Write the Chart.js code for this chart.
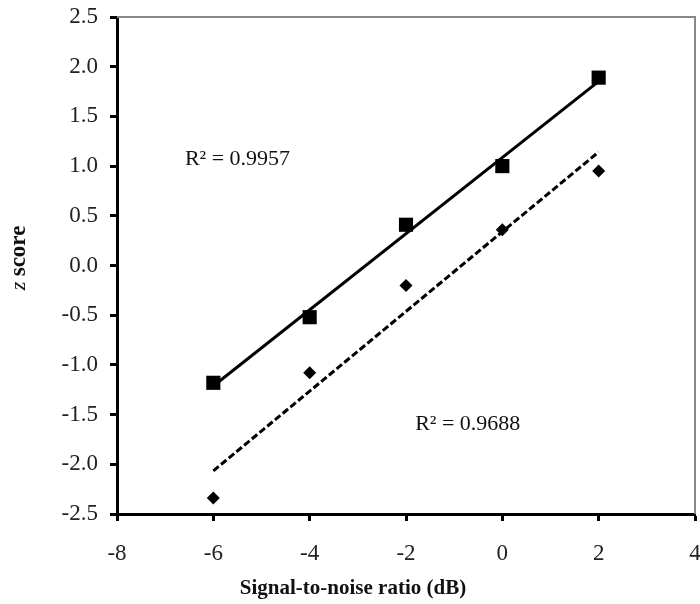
<!DOCTYPE html>
<html>
<head>
<meta charset="utf-8">
<script src="https://cdn.jsdelivr.net/npm/chart.js@4/dist/chart.umd.min.js"></script>
<style>
  html, body { margin: 0; padding: 0; background: #fff; }
  #wrap { width: 700px; height: 604px; }
</style>
</head>
<body>
<div id="wrap"><canvas id="chart" width="700" height="604"></canvas></div>
<script>
const snr = [-6, -4, -2, 0, 2];
const squareScores = [-1.18, -0.52, 0.41, 1.0, 1.89];
const diamondScores = [-2.34, -1.08, -0.2, 0.36, 0.95];
const xTicks = [-8, -6, -4, -2, 0, 2, 4];
const yTicks = [-2.5, -2.0, -1.5, -1.0, -0.5, 0.0, 0.5, 1.0, 1.5, 2.0, 2.5];
const r2Labels = ["R\u00B2 = 0.9957", "R\u00B2 = 0.9688"];
const xTitle = "Signal-to-noise ratio (dB)";

const serif = "'Liberation Serif', 'Times New Roman', serif";

function toPoints(xs, ys) {
  return xs.map((x, i) => ({ x: x, y: ys[i] }));
}

// least squares fit, drawn across the data range
function fitLine(xs, ys) {
  const n = xs.length;
  const mx = xs.reduce((a, b) => a + b, 0) / n;
  const my = ys.reduce((a, b) => a + b, 0) / n;
  let sxy = 0, sxx = 0;
  xs.forEach((x, i) => {
    sxy += (x - mx) * (ys[i] - my);
    sxx += (x - mx) * (x - mx);
  });
  const slope = sxy / sxx;
  const x0 = Math.min(...xs), x1 = Math.max(...xs);
  return [
    { x: x0, y: my + slope * (x0 - mx) },
    { x: x1, y: my + slope * (x1 - mx) }
  ];
}

const extras = {
  id: "extras",
  afterDraw(chart) {
    const ctx = chart.ctx;
    const a = chart.chartArea;
    const xs = chart.scales.x;
    const ys = chart.scales.y;
    ctx.save();

    // gray top/right frame
    ctx.strokeStyle = "#888";
    ctx.lineWidth = 2;
    ctx.beginPath();
    ctx.moveTo(a.left, a.top);
    ctx.lineTo(a.right, a.top);
    ctx.lineTo(a.right, a.bottom);
    ctx.stroke();

    // R² labels
    ctx.fillStyle = "#111";
    ctx.font = "22px " + serif;
    ctx.textBaseline = "middle";
    ctx.textAlign = "left";
    ctx.fillText(r2Labels[0], xs.getPixelForValue(-6.59), ys.getPixelForValue(1.07));
    ctx.fillText(r2Labels[1], xs.getPixelForValue(-1.81), ys.getPixelForValue(-1.6));

    // x axis title, centred on the page
    ctx.font = "bold 21px " + serif;
    ctx.textAlign = "center";
    ctx.fillText(xTitle, 353, 589);

    // y axis title: italic z + bold "score"
    ctx.translate(19, 258);
    ctx.rotate(-Math.PI / 2);
    ctx.textBaseline = "middle";
    ctx.font = "italic 22px " + serif;
    const zw = ctx.measureText("z ").width;
    ctx.font = "bold 23px " + serif;
    const sw = ctx.measureText("score").width;
    const start = -(zw + sw) / 2;
    ctx.textAlign = "left";
    ctx.font = "italic 22px " + serif;
    ctx.fillText("z ", start, 0);
    ctx.font = "bold 23px " + serif;
    ctx.fillText("score", start + zw, 0);
    ctx.restore();
  }
};

const chart = new Chart(document.getElementById("chart"), {
  type: "scatter",
  data: {
    datasets: [
      {
        label: "squares",
        data: toPoints(snr, squareScores),
        pointStyle: "rect",
        pointRadius: 10,
        backgroundColor: "#000",
        borderColor: "#000",
        borderWidth: 0
      },
      {
        label: "diamonds",
        data: toPoints(snr, diamondScores),
        pointStyle: "rectRot",
        pointRadius: 6.5,
        backgroundColor: "#000",
        borderColor: "#000",
        borderWidth: 0
      },
      {
        type: "line",
        label: "fit squares",
        data: fitLine(snr, squareScores),
        borderColor: "#000",
        borderWidth: 3,
        pointRadius: 0,
        fill: false
      },
      {
        type: "line",
        label: "fit diamonds",
        data: fitLine(snr, diamondScores),
        borderColor: "#000",
        borderWidth: 3,
        borderDash: [7, 3],
        pointRadius: 0,
        fill: false
      }
    ]
  },
  options: {
    responsive: false,
    animation: false,
    layout: { padding: { top: 17, right: 5, left: 0, bottom: 0 } },
    plugins: {
      legend: { display: false },
      tooltip: { enabled: false }
    },
    scales: {
      x: {
        type: "linear",
        min: xTicks[0],
        max: xTicks[xTicks.length - 1],
        afterBuildTicks: s => { s.ticks = xTicks.map(v => ({ value: v })); },
        afterFit: s => {
          s.height = 90;
          s.paddingLeft = 0;
          s.paddingRight = 0;
        },
        ticks: {
          color: "#222",
          font: { family: serif, size: 23 },
          padding: 19,
          maxRotation: 0,
          callback: v => String(v)
        },
        grid: {
          drawOnChartArea: false,
          drawTicks: true,
          tickLength: 7,
          tickWidth: 3,
          tickColor: "#000"
        },
        border: { display: true, color: "#000", width: 3 }
      },
      y: {
        type: "linear",
        min: yTicks[0],
        max: yTicks[yTicks.length - 1],
        afterBuildTicks: s => { s.ticks = yTicks.map(v => ({ value: v })); },
        afterFit: s => {
          s.width = 117;
          s.paddingTop = 0;
          s.paddingBottom = 0;
        },
        ticks: {
          color: "#222",
          font: { family: serif, size: 23 },
          padding: 12,
          callback: v => Number(v).toFixed(1)
        },
        grid: {
          drawOnChartArea: false,
          drawTicks: true,
          tickLength: 7,
          tickWidth: 3,
          tickColor: "#000"
        },
        border: { display: true, color: "#000", width: 3 }
      }
    }
  },
  plugins: [extras]
});

// big square markers would otherwise push the plot's right edge inwards
chart.data.datasets.forEach((d, i) => {
  const meta = chart.getDatasetMeta(i);
  if (meta && meta.controller) meta.controller.getMaxOverflow = () => 0;
});
chart.update();
</script>
</body>
</html>
